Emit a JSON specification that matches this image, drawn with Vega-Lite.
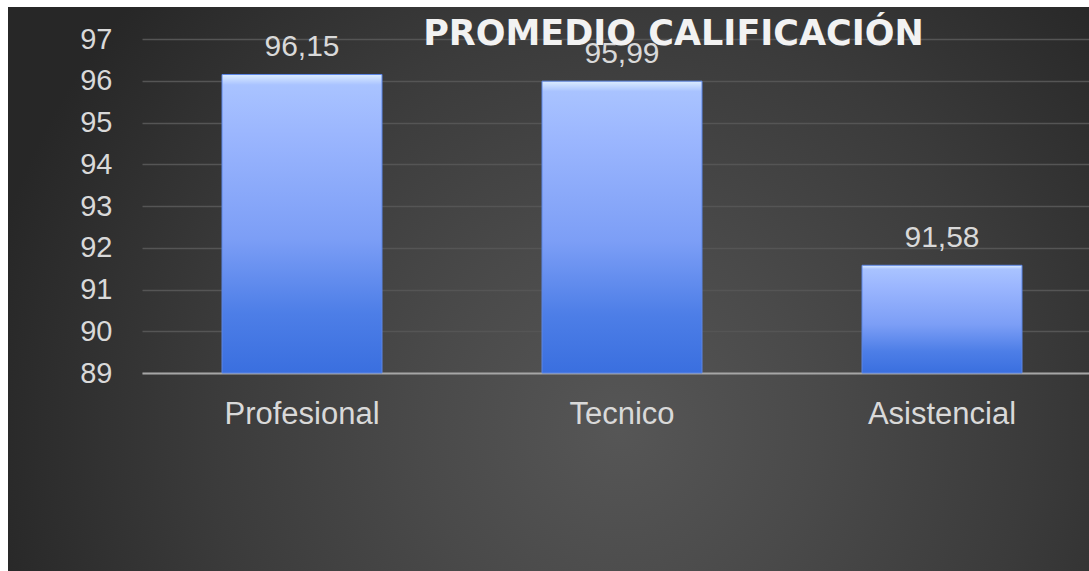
{
  "$schema": "https://vega.github.io/schema/vega-lite/v6.json",
  "width": 1081,
  "height": 564,
  "autosize": {"type": "none"},
  "padding": {"left": 8, "top": 7, "right": 0, "bottom": 0},
  "background": "#ffffff",
  "config": {
    "locale": {"number": {"decimal": ",", "thousands": ".", "grouping": [3], "currency": ["", ""]}},
    "view": {
      "stroke": null,
      "fill": {
        "gradient": "radial",
        "x1": 0.566, "y1": 0.63, "r1": 0,
        "x2": 0.566, "y2": 0.63, "r2": 0.6,
        "stops": [
          {"offset": 0, "color": "#565656"},
          {"offset": 0.3, "color": "#4a4a4a"},
          {"offset": 0.63, "color": "#3b3b3b"},
          {"offset": 1, "color": "#272727"}
        ]
      }
    }
  },
  "title": {
    "text": "PROMEDIO CALIFICACIÓN",
    "font": "DejaVu Sans",
    "fontWeight": "bold",
    "fontSize": 35,
    "color": "#f2f2f2",
    "anchor": "middle",
    "frame": "group",
    "baseline": "alphabetic",
    "dx": 125,
    "dy": 73,
    "offset": 0
  },
  "data": {
    "values": [
      {"cat": "Profesional", "value": 96.15},
      {"cat": "Tecnico", "value": 95.99},
      {"cat": "Asistencial", "value": 91.58}
    ]
  },
  "encoding": {
    "x": {
      "field": "cat",
      "type": "nominal",
      "sort": null,
      "scale": {"range": [134, 1094], "paddingInner": 0.5, "paddingOuter": 0.25},
      "axis": {
        "orient": "bottom",
        "offset": -198,
        "title": null,
        "labelAngle": 0,
        "domainColor": "#a6a6a6",
        "domainWidth": 2,
        "ticks": false,
        "tickSize": 0,
        "labelPadding": 26,
        "labelFont": "Liberation Sans",
        "labelFontSize": 31,
        "labelColor": "#d9d9d9",
        "grid": false
      }
    },
    "y": {
      "field": "value",
      "type": "quantitative",
      "scale": {"domain": [89, 97], "range": [366, 32], "nice": false, "zero": false},
      "axis": {
        "orient": "left",
        "offset": -134,
        "title": null,
        "values": [89, 90, 91, 92, 93, 94, 95, 96, 97],
        "domain": false,
        "ticks": false,
        "tickSize": 0,
        "labelPadding": 30,
        "labelFont": "Liberation Sans",
        "labelFontSize": 29,
        "labelColor": "#d9d9d9",
        "grid": true,
        "gridColor": "#555555",
        "gridWidth": 1.5
      }
    }
  },
  "layer": [
    {
      "mark": {
        "type": "bar",
        "fill": {
          "gradient": "linear",
          "x1": 0, "y1": 0, "x2": 0, "y2": 1,
          "stops": [
            {"offset": 0, "color": "#dcecff"},
            {"offset": 0.035, "color": "#a9c3ff"},
            {"offset": 0.2, "color": "#9bb6fe"},
            {"offset": 0.55, "color": "#7c9ef6"},
            {"offset": 0.8, "color": "#4d7ee7"},
            {"offset": 1, "color": "#3a6fdf"}
          ]
        },
        "stroke": "#5d86e6",
        "strokeWidth": 1
      },
      "encoding": {"y2": {"datum": 89}}
    },
    {
      "mark": {
        "type": "text",
        "baseline": "alphabetic",
        "dy": -18,
        "font": "Liberation Sans",
        "fontSize": 30,
        "color": "#d9d9d9"
      },
      "encoding": {
        "text": {"field": "value", "type": "quantitative", "format": ".2f"}
      }
    }
  ]
}
